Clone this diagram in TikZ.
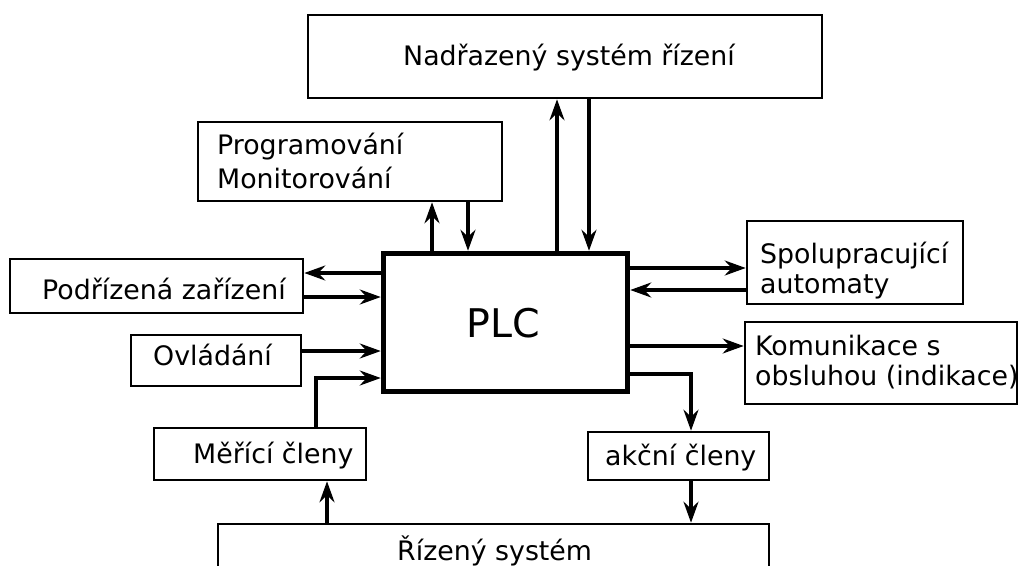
\documentclass[tikz,border=0pt]{standalone}
\usepackage{fontspec}
\setmainfont{DejaVu Sans}
\usetikzlibrary{arrows.meta}
\begin{document}
\begin{tikzpicture}[x=1pt,y=-1pt,
  box/.style={draw, line width=2.6pt, inner sep=0pt},
  plcbox/.style={draw, line width=5.5pt, inner sep=0pt},
  txt/.style={inner sep=0pt, anchor=base west, font=\fontsize{26.8}{30}\selectfont},
  arr/.style={line width=3.2pt, -{Stealth[length=21pt, width=15pt, inset=7pt]}}]
  % page
  \fill[white] (0,0) rectangle (1019,565);
  \useasboundingbox (0,0) rectangle (1019,565);

  % boxes
  \node[box, minimum width=514pt, minimum height=83pt] (nad) at (565,56.5) {};
  \node[box, minimum width=304pt, minimum height=79pt] (prog) at (350,161.5) {};
  \node[plcbox, minimum width=244pt, minimum height=138pt] (plc) at (505.5,322.5) {};
  \node[box, minimum width=293pt, minimum height=54pt] (pod) at (156.5,286) {};
  \node[box, minimum width=170pt, minimum height=51pt] (ovl) at (216,360.5) {};
  \node[box, minimum width=212pt, minimum height=52pt] (mer) at (260,454) {};
  \node[box, minimum width=216pt, minimum height=83pt] (spo) at (855,262.5) {};
  \node[box, minimum width=272pt, minimum height=82pt] (kom) at (881,363) {};
  \node[box, minimum width=181pt, minimum height=48pt] (akc) at (678.5,456) {};
  \node[box, minimum width=551pt, minimum height=76pt] (riz) at (493.5,562) {};

  % texts
  \node[txt] (nad-t) at (403,65) {Nadřazený systém řízení};
  \node[txt] (prog-t1) at (217,154) {Programování};
  \node[txt] (prog-t2) at (217,188) {Monitorování};
  \node[txt, font=\fontsize{39.5}{44}\selectfont] (plc-t) at (466,337) {PLC};
  \node[txt] (pod-t) at (42,299) {Podřízená zařízení};
  \node[txt] (ovl-t) at (153,365) {Ovládání};
  \node[txt] (mer-t) at (193,463) {Měřící členy};
  \node[txt] (spo-t1) at (760,263) {Spolupracující};
  \node[txt] (spo-t2) at (760,293) {automaty};
  \node[txt] (kom-t1) at (755,355) {Komunikace s};
  \node[txt] (kom-t2) at (755,385) {obsluhou (indikace)};
  \node[txt] (akc-t) at (605,465) {akční členy};
  \node[txt] (riz-t) at (397,560) {Řízený systém};

  % connector lanes
  \coordinate (xPu) at (432,0);
  \coordinate (xPd) at (468,0);
  \coordinate (xNu) at (557,0);
  \coordinate (xNd) at (589,0);
  \coordinate (xMe) at (316,0);
  \coordinate (xAk) at (691,0);
  \coordinate (xRz) at (327,0);
  \coordinate (yPo) at (0,273);
  \coordinate (yPi) at (0,297);
  \coordinate (yOv) at (0,351);
  \coordinate (yMe) at (0,378);
  \coordinate (ySo) at (0,268);
  \coordinate (ySi) at (0,290);
  \coordinate (yKo) at (0,346);
  \coordinate (yAk) at (0,374);

  % connectors
  \draw[arr] (plc.north -| xPu) -- (prog.south -| xPu);
  \draw[arr] (prog.south -| xPd) -- (plc.north -| xPd);
  \draw[arr] (plc.north -| xNu) -- (nad.south -| xNu);
  \draw[arr] (nad.south -| xNd) -- (plc.north -| xNd);
  \draw[arr] (plc.west |- yPo) -- (pod.east |- yPo);
  \draw[arr] (pod.east |- yPi) -- (plc.west |- yPi);
  \draw[arr] (ovl.east |- yOv) -- (plc.west |- yOv);
  \draw[arr] (mer.north -| xMe) |- (plc.west |- yMe);
  \draw[arr] (plc.east |- ySo) -- (spo.west |- ySo);
  \draw[arr] (spo.west |- ySi) -- (plc.east |- ySi);
  \draw[arr] (plc.east |- yKo) -- (kom.west |- yKo);
  \draw[arr] (plc.east |- yAk) -| (akc.north -| xAk);
  \draw[arr] (akc.south -| xAk) -- (riz.north -| xAk);
  \draw[arr] (riz.north -| xRz) -- (mer.south -| xRz);
\end{tikzpicture}
\end{document}
